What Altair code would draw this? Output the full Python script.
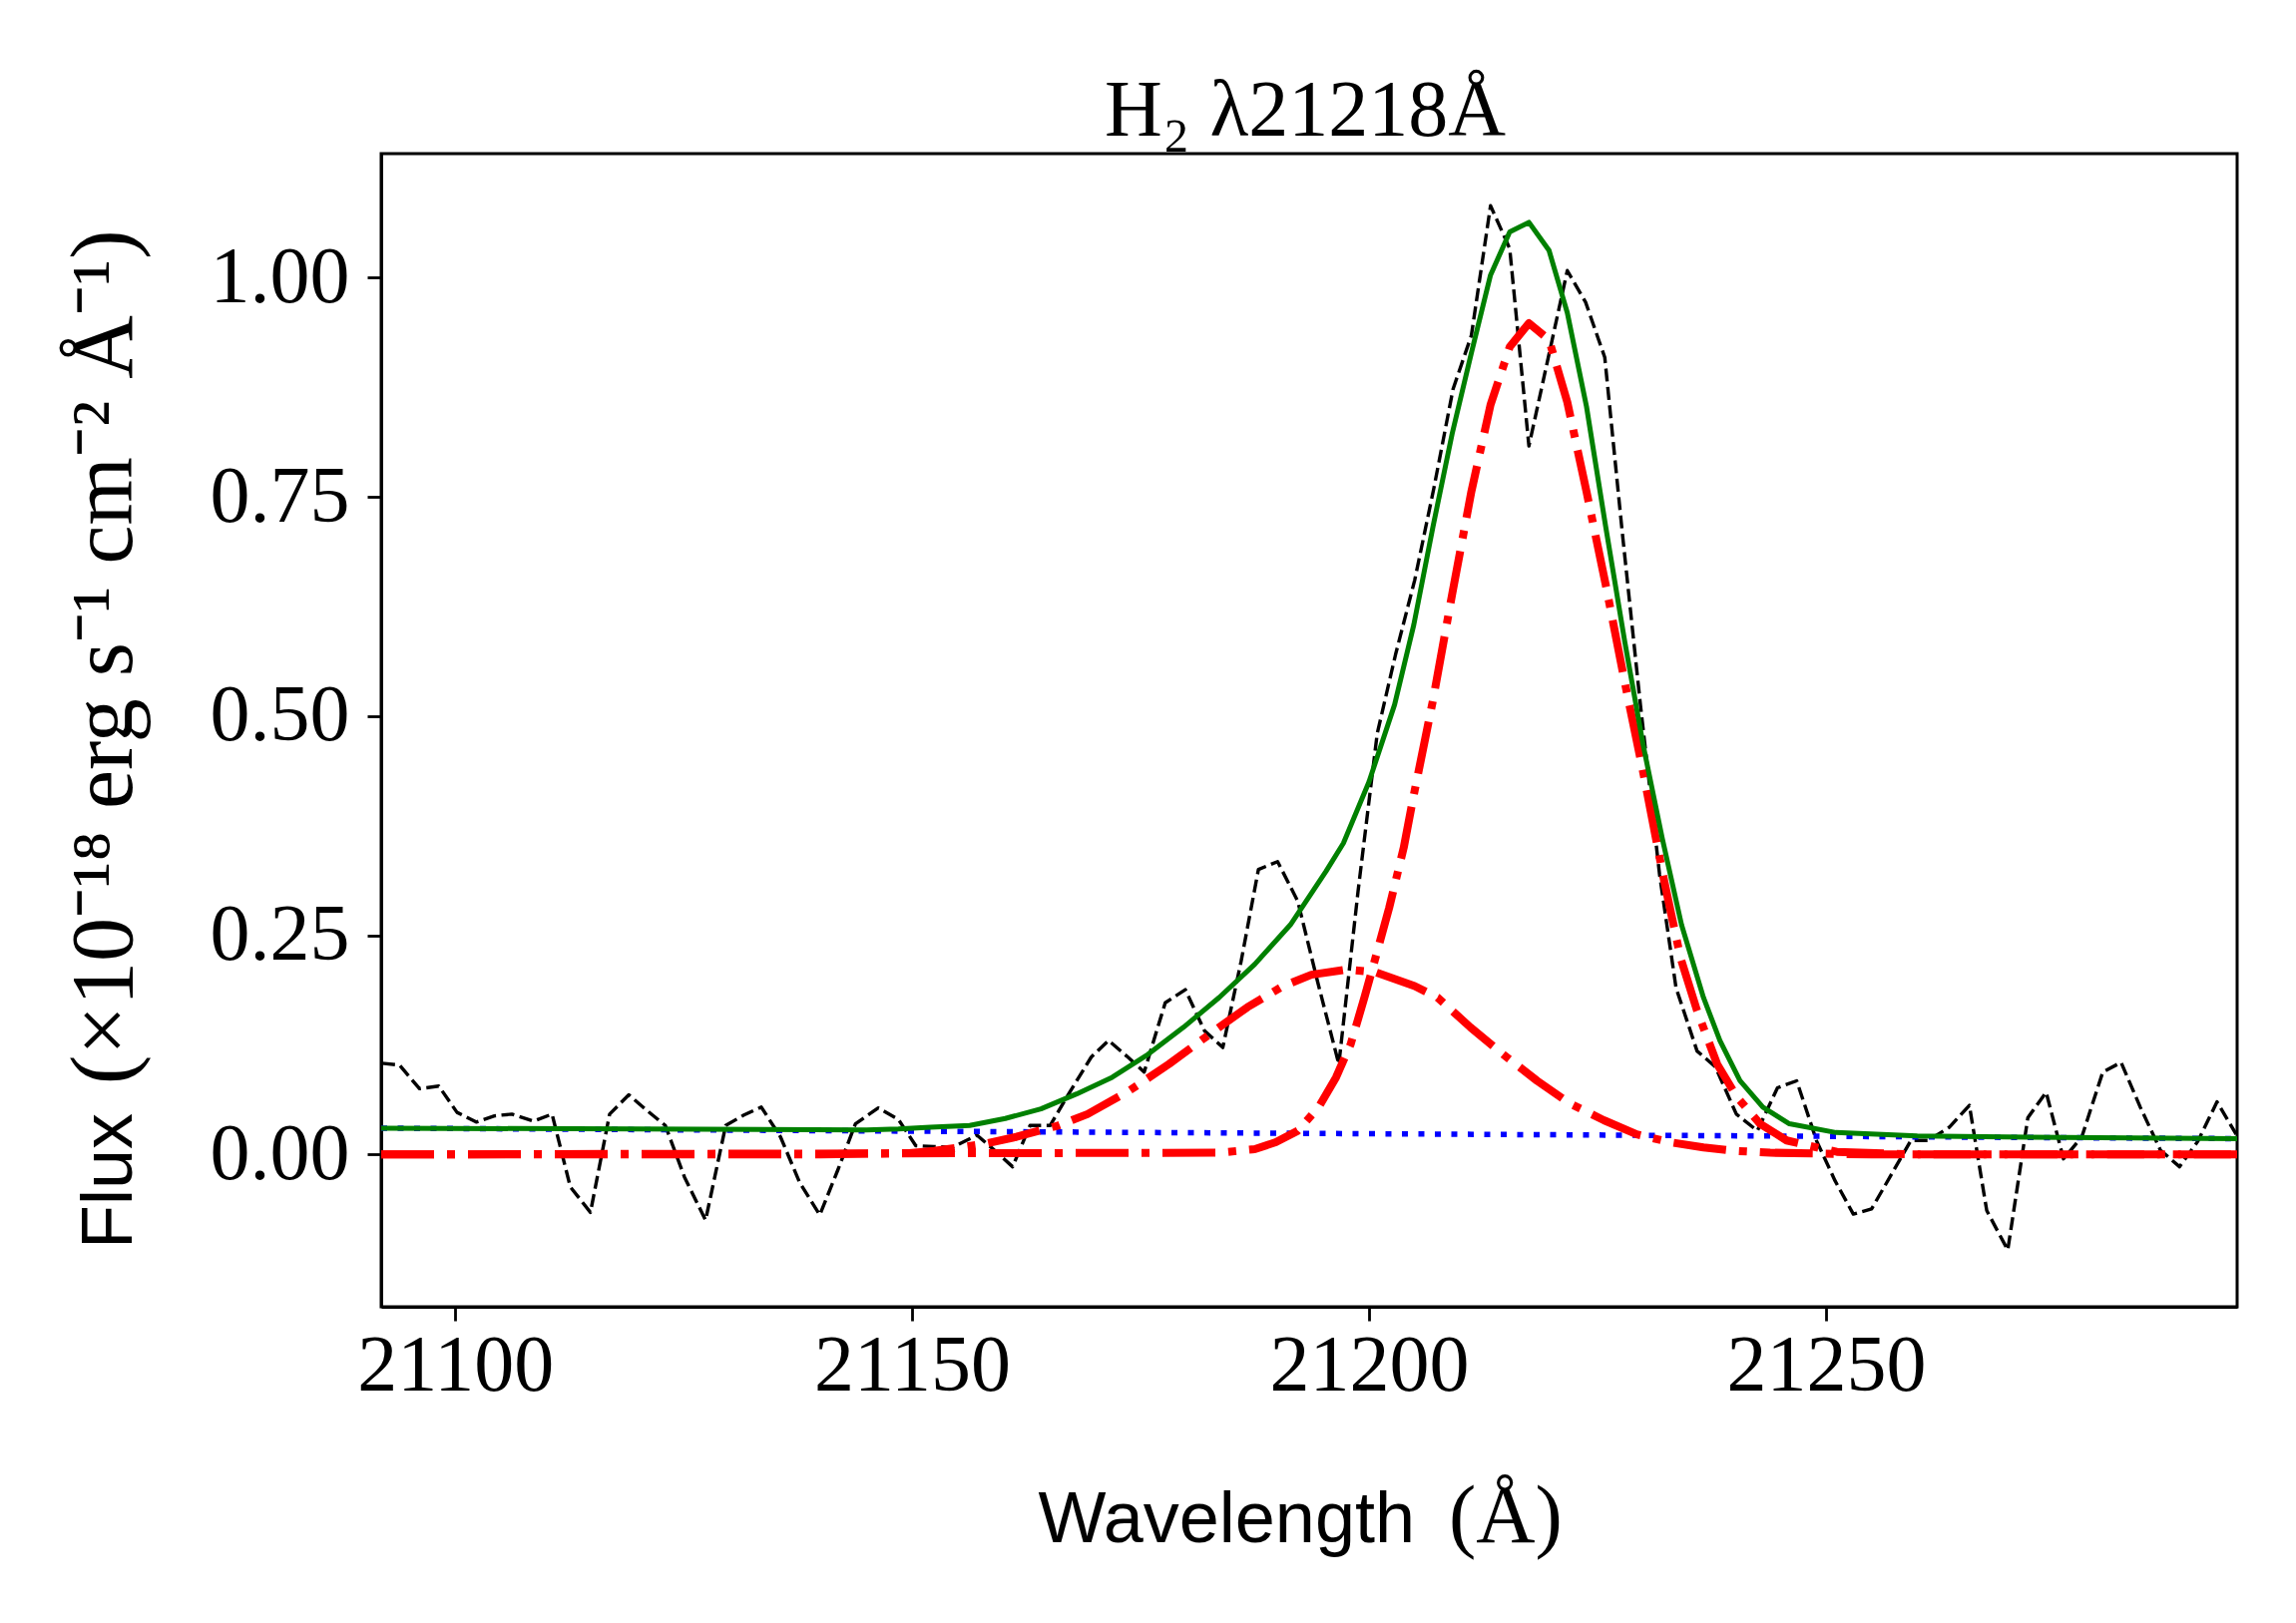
import altair as alt
import pandas as pd

# ---------------- data ----------------
obs_lam = [21092.0, 21093.9, 21096.1, 21098.2, 21100.2, 21102.3, 21104.3, 21106.2, 21108.6, 21110.6,
           21112.6, 21114.8, 21116.9, 21119.0, 21121.0, 21123.0, 21125.1, 21127.4, 21129.6, 21131.6,
           21133.5, 21135.6, 21137.7, 21139.9, 21141.9, 21143.8, 21146.3, 21148.5, 21150.4, 21152.4,
           21154.4, 21157.1, 21159.1, 21161.0, 21162.9, 21165.1, 21167.3, 21169.6, 21171.5, 21173.5,
           21175.4, 21177.7, 21179.9, 21182.0, 21184.0, 21186.0, 21187.9, 21190.0, 21192.2, 21194.4,
           21196.7, 21198.8, 21200.9, 21202.9, 21205.0, 21207.1, 21209.2, 21211.2, 21213.3, 21215.4,
           21217.5, 21219.6, 21221.7, 21223.7, 21225.8, 21227.7, 21229.7, 21231.8, 21233.6, 21235.9,
           21237.9, 21240.2, 21242.5, 21244.7, 21246.8, 21249.0, 21251.0, 21253.0, 21255.0, 21257.1,
           21259.3, 21261.2, 21263.5, 21265.7, 21267.6, 21269.9, 21272.1, 21274.1, 21276.0, 21278.0,
           21280.3, 21282.3, 21284.4, 21286.6, 21288.7, 21290.7, 21292.8, 21294.9]
obs_flux = [0.104, 0.102, 0.075, 0.078, 0.048, 0.037, 0.044, 0.046, 0.038, 0.046,
            -0.037, -0.066, 0.046, 0.068, 0.050, 0.033, -0.026, -0.075, 0.033, 0.045,
            0.054, 0.020, -0.032, -0.069, -0.017, 0.035, 0.053, 0.040, 0.010, 0.009,
            0.008, 0.022, 0.004, -0.014, 0.033, 0.033, 0.072, 0.111, 0.130, 0.112,
            0.094, 0.173, 0.188, 0.141, 0.122, 0.220, 0.325, 0.334, 0.289, 0.196,
            0.103, 0.300, 0.480, 0.570, 0.655, 0.760, 0.873, 0.934, 1.082, 1.033,
            0.808, 0.908, 1.008, 0.972, 0.909, 0.711, 0.513, 0.319, 0.190, 0.118,
            0.100, 0.046, 0.027, 0.076, 0.084, 0.015, -0.030, -0.068, -0.062, -0.024,
            0.016, 0.016, 0.031, 0.056, -0.064, -0.109, 0.042, 0.071, -0.005, 0.020,
            0.094, 0.105, 0.054, 0.005, -0.014, 0.015, 0.060, 0.023]

total_lam = [21091.9, 21120.0, 21145.0, 21148.5, 21152.0, 21156.3, 21160.2, 21164.1, 21168.0, 21171.9,
             21175.8, 21179.7, 21183.6, 21187.5, 21191.4, 21195.3, 21197.2, 21200.0, 21202.8, 21204.9,
             21207.0, 21209.1, 21211.2, 21213.3, 21215.4, 21217.5, 21219.7, 21221.7, 21223.8, 21225.9,
             21228.0, 21230.0, 21232.1, 21234.2, 21236.6, 21238.4, 21240.6, 21243.1, 21246.0, 21251.1,
             21260.0, 21280.0, 21295.0]
total_flux = [0.030, 0.029, 0.028, 0.029, 0.031, 0.033, 0.041, 0.052, 0.069, 0.088,
              0.114, 0.145, 0.179, 0.217, 0.262, 0.323, 0.355, 0.425, 0.513, 0.604,
              0.716, 0.822, 0.914, 1.003, 1.052, 1.063, 1.031, 0.960, 0.853, 0.716,
              0.584, 0.467, 0.360, 0.262, 0.179, 0.130, 0.084, 0.054, 0.035, 0.025,
              0.021, 0.019, 0.018]

narrow_lam = [21091.9, 21183.6, 21187.5, 21189.8, 21192.2, 21194.5, 21196.4, 21198.0, 21199.5, 21200.7,
              21202.2, 21203.8, 21204.9, 21207.0, 21209.1, 21211.2, 21213.3, 21215.4, 21217.5, 21219.7,
              21221.7, 21223.8, 21225.9, 21228.0, 21230.0, 21232.3, 21234.1, 21235.9, 21238.1, 21240.3,
              21242.8, 21245.7, 21249.4, 21251.2, 21260.0, 21295.0]
narrow_flux = [0.0, 0.002, 0.006, 0.014, 0.027, 0.054, 0.088, 0.126, 0.179, 0.224,
               0.281, 0.350, 0.410, 0.518, 0.639, 0.756, 0.855, 0.921, 0.948, 0.929,
               0.858, 0.756, 0.650, 0.538, 0.436, 0.312, 0.224, 0.164, 0.103, 0.065,
               0.035, 0.016, 0.007, 0.003, 0.0, 0.0]

broad_lam = [21091.9, 21140.0, 21149.7, 21152.4, 21157.9, 21161.4, 21166.0, 21169.2, 21173.8, 21178.1,
             21182.8, 21186.7, 21190.6, 21193.7, 21197.6, 21200.7, 21205.0, 21207.5, 21211.1, 21214.7,
             21218.4, 21222.0, 21225.7, 21229.3, 21232.9, 21236.6, 21240.2, 21243.9, 21255.0, 21295.0]
broad_flux = [0.0, 0.0, 0.0015, 0.004, 0.012, 0.020, 0.033, 0.046, 0.073, 0.103,
              0.139, 0.168, 0.192, 0.205, 0.211, 0.208, 0.192, 0.179, 0.145, 0.114,
              0.084, 0.058, 0.039, 0.023, 0.014, 0.008, 0.004, 0.002, 0.0, 0.0]

cont_lam = [21091.9, 21295.0]
cont_flux = [0.030, 0.018]

x_ticks = [21100, 21150, 21200, 21250]
y_ticks = [0.0, 0.25, 0.5, 0.75, 1.0]

title_text = "H₂ λ21218Å"
xlabel_main = "Wavelength"
xlabel_unit = "(Å)"
ylabel_main = "Flux"
ylabel_unit = "(×10⁻¹⁸ erg s⁻¹ cm⁻² Å⁻¹)"

X_DOMAIN = [21091.9, 21295.0]
Y_DOMAIN = [-0.1737, 1.1414]

W, H = 1860, 1156
SERIF = "Liberation Serif"
SANS = "Liberation Sans"

xs = alt.Scale(domain=X_DOMAIN, nice=False, zero=False)
ys = alt.Scale(domain=Y_DOMAIN, nice=False, zero=False)

x_axis = alt.Axis(values=x_ticks, format="d", title=None, grid=False,
                  labelFont=SERIF, labelFontSize=80, labelColor="black", labelPadding=6,
                  labelLimit=0, labelOverlap=False,
                  tickSize=14, tickWidth=2.8, tickColor="black",
                  domainColor="black", domainWidth=3, labelFlush=False)
y_axis = alt.Axis(values=y_ticks, format=".2f", title=None, grid=False,
                  labelFont=SERIF, labelFontSize=80, labelColor="black", labelPadding=18,
                  labelLimit=0, labelOverlap=False,
                  tickSize=14, tickWidth=2.8, tickColor="black",
                  domainColor="black", domainWidth=3, labelFlush=False)


def line_layer(lams, vals, color, width, dash=None):
    df = pd.DataFrame({"lam": lams, "flux": vals})
    kw = dict(color=color, strokeWidth=width, clip=True, strokeJoin="round")
    if dash is not None:
        kw["strokeDash"] = dash
    return alt.Chart(df).mark_line(**kw).encode(
        x=alt.X("lam:Q", scale=xs, axis=x_axis),
        y=alt.Y("flux:Q", scale=ys, axis=y_axis),
        order="lam:Q",
    )


obs = line_layer(obs_lam, obs_flux, "#000000", 3.4, [13, 5.5])
cont = line_layer(cont_lam, cont_flux, "#0000ff", 5.5, [6, 10.5])
narrow = line_layer(narrow_lam, narrow_flux, "#ff0000", 8.0, [53, 13, 8, 13])
broad = line_layer(broad_lam, broad_flux, "#ff0000", 8.0, [53, 13, 8, 13])
total = line_layer(total_lam, total_flux, "#008000", 5.0)


def text_layer(txt, font, size, x, y, align, angle=0):
    df = pd.DataFrame({"label": [txt]})
    return alt.Chart(df).mark_text(
        font=font, fontSize=size, align=align, baseline="alphabetic",
        angle=angle, color="black"
    ).encode(text="label:N", x=alt.value(x), y=alt.value(y))


t_title = text_layer(title_text, SERIF, 80, 926, -18, "center")
t_xmain = text_layer(xlabel_main, SANS, 72, 1036, 1392, "right")
t_xunit = text_layer(xlabel_unit, SERIF, 82, 1070, 1392, "left")
t_ymain = text_layer(ylabel_main, SANS, 72, -250, 1098, "left", angle=270)
t_yunit = text_layer(ylabel_unit, SERIF, 88, -250, 933, "left", angle=270)

chart = alt.layer(
    obs, cont, narrow, broad, total,
    t_title, t_xmain, t_xunit, t_ymain, t_yunit
).properties(
    width=W, height=H,
    autosize=alt.AutoSizeParams(type="none"),
    padding={"left": 374, "top": 146, "right": 50, "bottom": 300},
    background="white",
).configure_view(
    stroke="black", strokeWidth=3
)

chart.save("out.html", embed_options={"renderer": "svg", "actions": False})
